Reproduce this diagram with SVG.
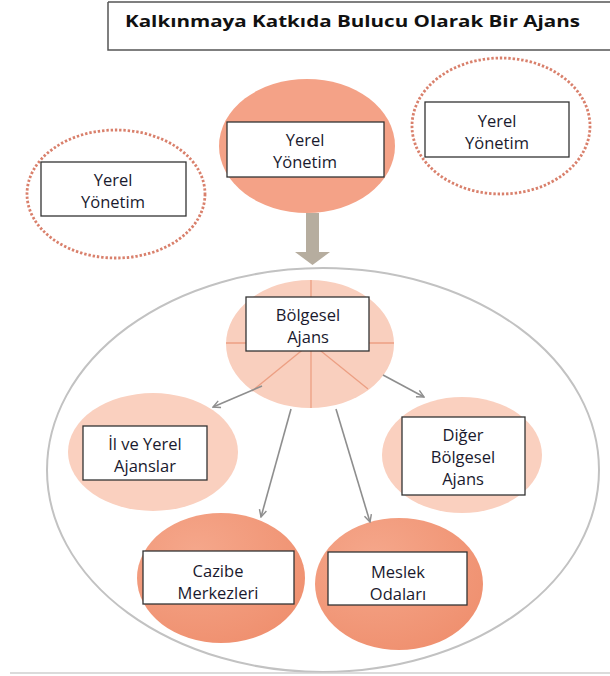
<svg xmlns="http://www.w3.org/2000/svg" width="610" height="676" viewBox="0 0 610 676">
<defs>
<style>
.lbl{font-family:"Open Sans","Liberation Sans",sans-serif;font-size:16.5px;fill:#1a1a2e;text-anchor:middle}
.box{fill:#fff;stroke:#333;stroke-width:1.3}
.dot{fill:none;stroke:#d9806c;stroke-width:2.8;stroke-dasharray:2.4 1.9}
.conn{stroke:#8e8e8e;stroke-width:1.6;fill:none}
.seg{stroke:#ec9f83;stroke-width:1.3}
</style>
<marker id="ah" viewBox="0 0 10 10" refX="9" refY="5" markerWidth="9" markerHeight="9" markerUnits="userSpaceOnUse" orient="auto">
<path d="M1,1 L9,5 L1,9" fill="none" stroke="#8e8e8e" stroke-width="1.6"/>
</marker>
<radialGradient id="dark" cx="0.35" cy="0.3" r="0.8">
<stop offset="0" stop-color="#f5a78b"/><stop offset="1" stop-color="#ef8f6e"/>
</radialGradient>
</defs>
<rect width="610" height="676" fill="#fff"/>
<g id="title">
<path d="M108,2 L612,2 M108,2 L108,50 L612,50" fill="none" stroke="#555" stroke-width="1.5"/>
<text x="125" y="27" font-family="'Open Sans','Liberation Sans',sans-serif" font-weight="bold" font-size="16.5" fill="#111" textLength="455" lengthAdjust="spacingAndGlyphs">Kalkınmaya Katkıda Bulucu Olarak Bir Ajans</text>
</g>
<g id="outer">
<ellipse cx="323" cy="470" rx="276" ry="202" fill="#fff" stroke="#c2c2c2" stroke-width="2"/>
</g>
<line x1="10" y1="673" x2="610" y2="673" stroke="#cfcfcf" stroke-width="1.5"/>
<g id="yerel-top">
<ellipse cx="307" cy="146" rx="88" ry="67" fill="#f4a287"/>
<rect class="box" x="227" y="122" width="157" height="55"/>
<text class="lbl" x="305" y="146">Yerel</text>
<text class="lbl" x="305" y="168">Yönetim</text>
</g>
<g id="yerel-left">
<ellipse class="dot" cx="116" cy="194" rx="89" ry="64"/>
<rect class="box" x="41" y="162" width="145" height="54"/>
<text class="lbl" x="113" y="186">Yerel</text>
<text class="lbl" x="113" y="208">Yönetim</text>
</g>
<g id="yerel-right">
<ellipse class="dot" cx="501" cy="126" rx="89" ry="68"/>
<rect class="box" x="425" y="102" width="144" height="55"/>
<text class="lbl" x="497" y="127">Yerel</text>
<text class="lbl" x="497" y="149">Yönetim</text>
</g>
<g id="block-arrow">
<path d="M306,213 L319,213 L319,252 L330,252 L312.5,265 L295,252 L306,252 Z" fill="#b6ad9f"/>
</g>
<g id="bolgesel">
<ellipse cx="310" cy="344" rx="84" ry="64" fill="#f9cfbe"/>
<line class="seg" x1="311" y1="280" x2="311" y2="408"/>
<line class="seg" x1="226" y1="343" x2="394" y2="343"/>
<line class="seg" x1="311" y1="343" x2="252" y2="391"/>
<line class="seg" x1="311" y1="343" x2="368" y2="389"/>
<rect class="box" x="246" y="297" width="123" height="54"/>
<text class="lbl" x="308" y="321">Bölgesel</text>
<text class="lbl" x="308" y="343">Ajans</text>
</g>
<g id="il-ve-yerel">
<ellipse cx="153" cy="452" rx="85" ry="59" fill="#fad0bf"/>
<rect class="box" x="83" y="426" width="124" height="54"/>
<text class="lbl" x="145" y="450">İl ve Yerel</text>
<text class="lbl" x="145" y="472">Ajanslar</text>
</g>
<g id="diger">
<ellipse cx="462" cy="455" rx="80" ry="58" fill="#fad0bf"/>
<rect class="box" x="402" y="417" width="123" height="78"/>
<text class="lbl" x="463" y="441">Diğer</text>
<text class="lbl" x="463" y="463">Bölgesel</text>
<text class="lbl" x="463" y="485">Ajans</text>
</g>
<g id="cazibe">
<ellipse cx="221" cy="578" rx="84" ry="65" fill="url(#dark)"/>
<rect class="box" x="143" y="551" width="151" height="53"/>
<text class="lbl" x="218" y="577">Cazibe</text>
<text class="lbl" x="218" y="599">Merkezleri</text>
</g>
<g id="meslek">
<ellipse cx="399" cy="584" rx="84" ry="66" fill="url(#dark)"/>
<rect class="box" x="328" y="552" width="139" height="53"/>
<text class="lbl" x="398" y="578">Meslek</text>
<text class="lbl" x="398" y="600">Odaları</text>
</g>
<g id="connectors">
<line class="conn" x1="262" y1="386" x2="213" y2="407" marker-end="url(#ah)"/>
<line class="conn" x1="383" y1="375" x2="424" y2="397" marker-end="url(#ah)"/>
<line class="conn" x1="291" y1="409" x2="261" y2="517" marker-end="url(#ah)"/>
<line class="conn" x1="336" y1="409" x2="370" y2="522" marker-end="url(#ah)"/>
</g>
</svg>
